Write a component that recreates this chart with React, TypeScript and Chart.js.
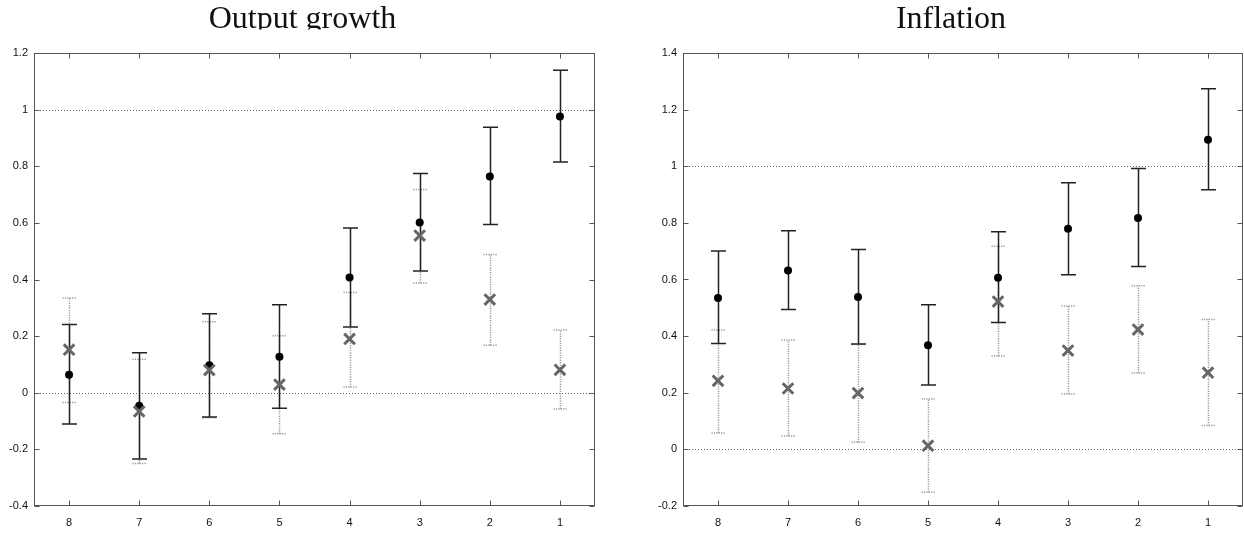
import React, { useEffect, useRef } from "react";
import { Chart, registerables } from "chart.js";

Chart.register(...registerables);

// ---- data ----
const horizons = [8, 7, 6, 5, 4, 3, 2, 1];
const refLines = [0, 1];

const ogTitle = "Output growth";
const ogTickValues = [-0.4, -0.2, 0, 0.2, 0.4, 0.6, 0.8, 1, 1.2];
const ogTickLabels = ["-0.4", "-0.2", "0", "0.2", "0.4", "0.6", "0.8", "1", "1.2"];
const ogMean = [0.064, -0.046, 0.097, 0.127, 0.407, 0.601, 0.764, 0.976];
const ogMeanLo = [-0.11, -0.234, -0.086, -0.055, 0.232, 0.43, 0.594, 0.815];
const ogMeanHi = [0.241, 0.141, 0.279, 0.311, 0.582, 0.774, 0.938, 1.139];
const ogAlt = [0.152, -0.066, 0.08, 0.029, 0.19, 0.555, 0.329, 0.081];
const ogAltLo = [-0.034, -0.25, -0.088, -0.145, 0.02, 0.388, 0.168, -0.057];
const ogAltHi = [0.335, 0.118, 0.251, 0.201, 0.354, 0.718, 0.488, 0.222];

const infTitle = "Inflation";
const infTickValues = [-0.2, 0, 0.2, 0.4, 0.6, 0.8, 1, 1.2, 1.4];
const infTickLabels = ["-0.2", "0", "0.2", "0.4", "0.6", "0.8", "1", "1.2", "1.4"];
const infMean = [0.535, 0.632, 0.538, 0.368, 0.606, 0.779, 0.817, 1.094];
const infMeanLo = [0.374, 0.494, 0.372, 0.227, 0.448, 0.617, 0.646, 0.917];
const infMeanHi = [0.701, 0.772, 0.706, 0.511, 0.769, 0.942, 0.992, 1.274];
const infAlt = [0.242, 0.215, 0.199, 0.013, 0.522, 0.349, 0.423, 0.271];
const infAltLo = [0.058, 0.047, 0.025, -0.151, 0.33, 0.196, 0.27, 0.084];
const infAltHi = [0.422, 0.386, 0.37, 0.178, 0.717, 0.506, 0.578, 0.459];

type PanelProps = {
  title: string;
  tickValues: number[];
  tickLabels: string[];
  mean: number[];
  meanLo: number[];
  meanHi: number[];
  alt: number[];
  altLo: number[];
  altHi: number[];
  left: number;
  width: number;
  yAxisWidth: number;
  padRight: number;
};

const FRAME = "#555555";
const TICK_FONT = { family: '"Liberation Sans", Arial, sans-serif', size: 11 };

function Panel(p: PanelProps) {
  const ref = useRef<HTMLCanvasElement | null>(null);
  useEffect(() => {
    const canvas = ref.current;
    if (!canvas) return;

    const decor = {
      id: "decor",
      beforeDatasetsDraw(chart: any) {
        const ctx = chart.ctx;
        const a = chart.chartArea;
        const xs = chart.scales.x;
        const ys = chart.scales.y;
        ctx.save();
        // dotted reference lines
        ctx.strokeStyle = "#666666";
        ctx.lineWidth = 1;
        ctx.setLineDash([1, 2]);
        refLines.forEach((v) => {
          const y = Math.round(ys.getPixelForValue(v)) + 0.5;
          ctx.beginPath();
          ctx.moveTo(a.left, y);
          ctx.lineTo(a.right, y);
          ctx.stroke();
        });
        // dotted error bars
        ctx.strokeStyle = "#999999";
        ctx.lineWidth = 1.5;
        ctx.setLineDash([1.2, 1.2]);
        horizons.forEach((h, i) => {
          const x = Math.round(xs.getPixelForValue(h)) + 0.5;
          const y1 = ys.getPixelForValue(p.altLo[i]);
          const y2 = ys.getPixelForValue(p.altHi[i]);
          ctx.beginPath();
          ctx.moveTo(x, y1);
          ctx.lineTo(x, y2);
          ctx.moveTo(x - 7, y1);
          ctx.lineTo(x + 7, y1);
          ctx.moveTo(x - 7, y2);
          ctx.lineTo(x + 7, y2);
          ctx.stroke();
        });
        // solid error bars
        ctx.setLineDash([]);
        ctx.strokeStyle = "#222222";
        ctx.lineWidth = 1.5;
        horizons.forEach((h, i) => {
          const x = Math.round(xs.getPixelForValue(h)) + 0.5;
          const y1 = ys.getPixelForValue(p.meanLo[i]);
          const y2 = ys.getPixelForValue(p.meanHi[i]);
          ctx.beginPath();
          ctx.moveTo(x, y1);
          ctx.lineTo(x, y2);
          ctx.moveTo(x - 7.5, y1);
          ctx.lineTo(x + 7.5, y1);
          ctx.moveTo(x - 7.5, y2);
          ctx.lineTo(x + 7.5, y2);
          ctx.stroke();
        });
        ctx.restore();
      },
      afterDraw(chart: any) {
        const ctx = chart.ctx;
        const a = chart.chartArea;
        const xs = chart.scales.x;
        const ys = chart.scales.y;
        ctx.save();
        // frame
        ctx.strokeStyle = FRAME;
        ctx.lineWidth = 1;
        ctx.setLineDash([]);
        const L = Math.round(a.left) + 0.5;
        const R = Math.round(a.right) - 0.5;
        const T = Math.round(a.top) + 0.5;
        const B = Math.round(a.bottom) - 0.5;
        ctx.strokeRect(L, T, R - L, B - T);
        // inward tick marks on all four sides
        ctx.beginPath();
        horizons.forEach((h) => {
          const x = Math.round(xs.getPixelForValue(h)) + 0.5;
          ctx.moveTo(x, B);
          ctx.lineTo(x, B - 5);
          ctx.moveTo(x, T);
          ctx.lineTo(x, T + 5);
        });
        p.tickValues.forEach((v) => {
          const y = Math.round(ys.getPixelForValue(v)) + 0.5;
          ctx.moveTo(L, y);
          ctx.lineTo(L + 5, y);
          ctx.moveTo(R, y);
          ctx.lineTo(R - 5, y);
        });
        ctx.stroke();
        // title (clipped at the bottom like the reference)
        ctx.beginPath();
        ctx.rect(0, 0, chart.width, 29.5);
        ctx.clip();
        ctx.fillStyle = "#111111";
        ctx.font = '32px "Liberation Serif", "DejaVu Serif", serif';
        ctx.textAlign = "center";
        ctx.textBaseline = "alphabetic";
        ctx.fillText(p.title, (a.left + a.right) / 2 - 12, 28);
        ctx.restore();
      },
    };

    const chart = new Chart(canvas, {
      type: "scatter",
      data: {
        datasets: [
          {
            label: "alt",
            data: horizons.map((h, i) => ({ x: h, y: p.alt[i] })),
            pointStyle: "crossRot",
            pointRadius: 7.5,
            pointBorderWidth: 3,
            borderColor: "#666666",
            backgroundColor: "#666666",
            order: 0,
          },
          {
            label: "mean",
            data: horizons.map((h, i) => ({ x: h, y: p.mean[i] })),
            pointStyle: "circle",
            pointRadius: 4,
            pointBorderWidth: 0,
            borderColor: "#000000",
            backgroundColor: "#000000",
            order: 1,
          },
        ],
      },
      options: {
        animation: false,
        responsive: false,
        maintainAspectRatio: false,
        events: [],
        layout: {
          autoPadding: false,
          padding: { top: 53, right: p.padRight, left: 0, bottom: 0 },
        },
        plugins: {
          legend: { display: false },
          tooltip: { enabled: false },
          title: { display: false },
        },
        scales: {
          x: {
            type: "linear",
            reverse: true,
            min: 0.5,
            max: 8.5,
            grid: { display: false, drawTicks: false },
            border: { display: false },
            afterBuildTicks: (s: any) => {
              s.ticks = horizons.map((h) => ({ value: h }));
            },
            afterFit: (s: any) => {
              s.height = 27;
            },
            ticks: {
              padding: 10,
              color: "#111111",
              font: TICK_FONT,
              maxRotation: 0,
              autoSkip: false,
              callback: (v: any) => String(v),
            },
          },
          y: {
            type: "linear",
            min: p.tickValues[0],
            max: p.tickValues[p.tickValues.length - 1],
            grid: { display: false, drawTicks: false },
            border: { display: false },
            afterBuildTicks: (s: any) => {
              s.ticks = p.tickValues.map((v) => ({ value: v }));
            },
            afterFit: (s: any) => {
              s.width = p.yAxisWidth;
            },
            ticks: {
              padding: 6,
              color: "#111111",
              font: TICK_FONT,
              autoSkip: false,
              callback: (v: any) => {
                const idx = p.tickValues.findIndex((t) => Math.abs(t - v) < 1e-9);
                return idx >= 0 ? p.tickLabels[idx] : "";
              },
            },
          },
        },
      },
      plugins: [decor],
    } as any);
    return () => chart.destroy();
  }, []);

  return (
    <div style={{ position: "absolute", left: p.left, top: 0, width: p.width, height: 533 }}>
      <canvas ref={ref} width={p.width} height={533} style={{ width: p.width, height: 533, display: "block" }} />
    </div>
  );
}

export default function App() {
  return (
    <div style={{ position: "fixed", left: 0, top: 0, width: 1244, height: 533, background: "#ffffff" }}>
      <Panel
        title={ogTitle}
        tickValues={ogTickValues}
        tickLabels={ogTickLabels}
        mean={ogMean}
        meanLo={ogMeanLo}
        meanHi={ogMeanHi}
        alt={ogAlt}
        altLo={ogAltLo}
        altHi={ogAltHi}
        left={0}
        width={600}
        yAxisWidth={34}
        padRight={5}
      />
      <Panel
        title={infTitle}
        tickValues={infTickValues}
        tickLabels={infTickLabels}
        mean={infMean}
        meanLo={infMeanLo}
        meanHi={infMeanHi}
        alt={infAlt}
        altLo={infAltLo}
        altHi={infAltHi}
        left={620}
        width={624}
        yAxisWidth={63}
        padRight={1}
      />
    </div>
  );
}
